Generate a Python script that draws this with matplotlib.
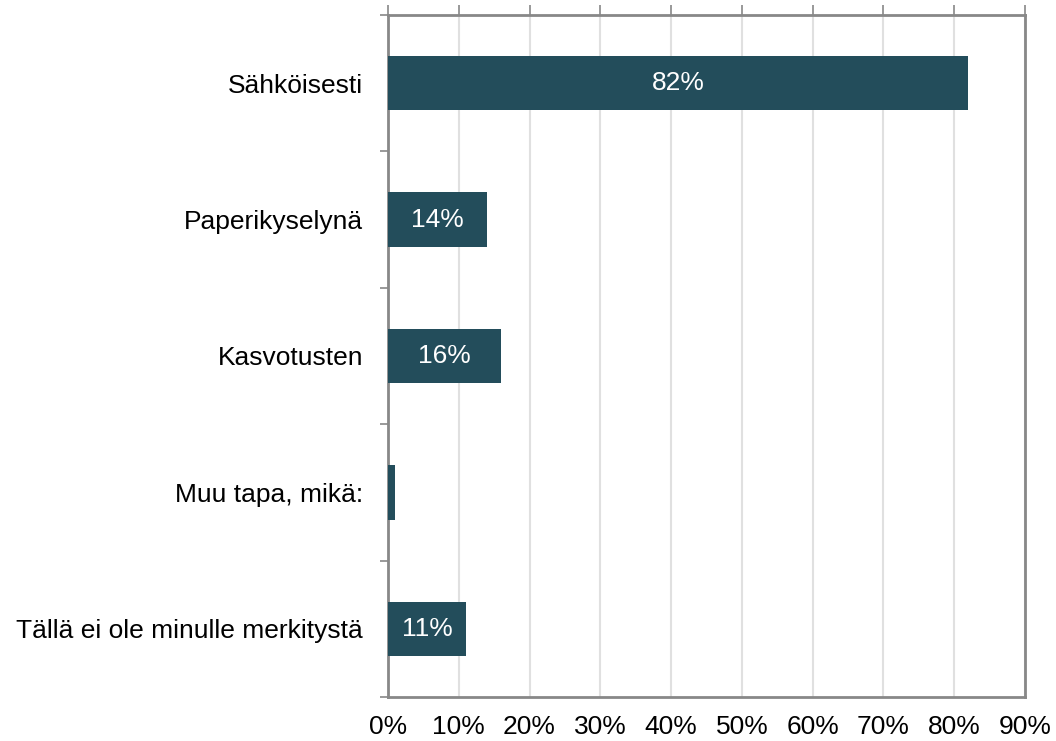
import numpy as np
from matplotlib import pyplot as plt
from matplotlib.ticker import FixedLocator, PercentFormatter

categories = ['Sähköisesti', 'Paperikyselynä', 'Kasvotusten', 'Muu tapa, mikä:',
              'Tällä ei ole minulle merkitystä']
values = [82, 14, 16, 1, 11]
labels = ['82%', '14%', '16%', '', '11%']

plt.rcParams['font.family'] = ['Liberation Sans', 'DejaVu Sans']

fig = plt.figure(figsize=(10.56, 7.41), dpi=100)
ax = fig.add_axes([0.3674, 0.0594, 0.6032, 0.9204])

pos = np.arange(len(categories))
bars = ax.barh(pos, values, height=0.4, color='#234d5b', zorder=3)
for b, lab in zip(bars, labels):
    if lab:
        ax.text(b.get_width() / 2, b.get_y() + b.get_height() / 2, lab,
                ha='center', va='center', color='white', fontsize=19, zorder=4)

ax.set_xlim(0, 90)
ax.set_ylim(len(categories) - 0.5, -0.5)
ax.set_xticks(np.arange(0, 91, 10))
ax.xaxis.set_major_formatter(PercentFormatter(decimals=0))
ax.set_yticks(pos)
ax.set_yticklabels(categories)
ax.yaxis.set_minor_locator(FixedLocator(np.arange(-0.5, len(categories), 1)))

ax.tick_params(axis='x', top=True, bottom=False, labeltop=False, labelbottom=True,
               length=7, width=1.2, color='#888888', labelsize=19, pad=6)
ax.tick_params(axis='y', which='major', length=0, labelsize=19, pad=18)
ax.tick_params(axis='y', which='minor', length=6, width=1.2, color='#888888')

ax.grid(axis='x', color='#e0e0e0', linewidth=1.5, zorder=0)
for s in ax.spines.values():
    s.set_color('#888888')
    s.set_linewidth(2)

fig.savefig('out.png', dpi=100)
